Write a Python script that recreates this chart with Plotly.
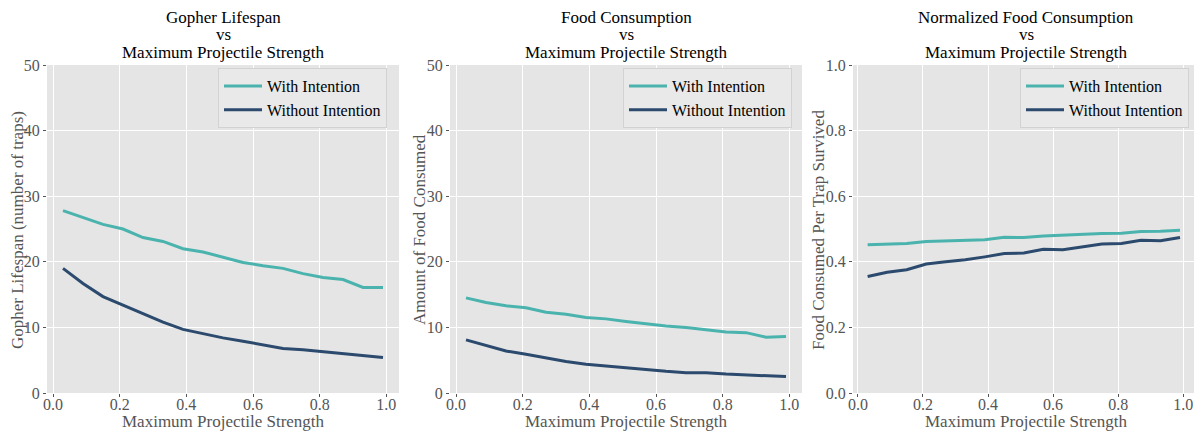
import plotly.graph_objects as go

strength = [0.03, 0.09, 0.15, 0.21, 0.27, 0.33, 0.39, 0.45, 0.51, 0.57,
            0.63, 0.69, 0.75, 0.81, 0.87, 0.93, 0.99]

lifespan_with = [27.8, 26.7, 25.7, 25.0, 23.7, 23.1, 22.0, 21.5, 20.7, 19.9,
                 19.4, 19.0, 18.2, 17.6, 17.3, 16.1, 16.1]
lifespan_without = [19.0, 16.7, 14.7, 13.4, 12.0, 10.8, 9.7, 9.0, 8.4, 7.9,
                    7.3, 6.8, 6.6, 6.3, 6.0, 5.6, 5.4]

food_with = [14.5, 13.8, 13.3, 13.0, 12.3, 12.0, 11.5, 11.3, 10.9, 10.5,
             10.2, 10.0, 9.6, 9.3, 9.2, 8.5, 8.6]
food_without = [8.1, 7.2, 6.4, 5.9, 5.3, 4.8, 4.4, 4.1, 3.8, 3.6,
                3.3, 3.1, 3.1, 2.9, 2.8, 2.6, 2.5]

norm_with = [0.452, 0.455, 0.456, 0.462, 0.463, 0.466, 0.467, 0.475, 0.474, 0.479,
             0.482, 0.485, 0.486, 0.487, 0.492, 0.493, 0.496]
norm_without = [0.355, 0.368, 0.376, 0.393, 0.400, 0.406, 0.415, 0.425, 0.427, 0.438,
                0.437, 0.446, 0.454, 0.456, 0.466, 0.464, 0.474]

titles = [["Gopher Lifespan", "vs", "Maximum Projectile Strength"],
          ["Food Consumption", "vs", "Maximum Projectile Strength"],
          ["Normalized Food Consumption", "vs", "Maximum Projectile Strength"]]
xtitle = "Maximum Projectile Strength"
ytitles = ["Gopher Lifespan (number of traps)", "Amount of Food Consumed",
           "Food Consumed Per Trap Survived"]
series_names = ["With Intention", "Without Intention"]
yranges = [[0, 50], [0, 50], [0, 1.0]]
ytickvals = [[0, 10, 20, 30, 40, 50], [0, 10, 20, 30, 40, 50], [0, 0.2, 0.4, 0.6, 0.8, 1.0]]
yticktext = [["0", "10", "20", "30", "40", "50"], ["0", "10", "20", "30", "40", "50"],
             ["0.0", "0.2", "0.4", "0.6", "0.8", "1.0"]]
xtickvals = [0.0, 0.2, 0.4, 0.6, 0.8, 1.0]
xticktext = ["0.0", "0.2", "0.4", "0.6", "0.8", "1.0"]

data = [(lifespan_with, lifespan_without), (food_with, food_without), (norm_with, norm_without)]

TEAL = "#4bb3ae"
NAVY = "#2b4a6d"
GREY_TXT = "#555555"
FONT = "Liberation Serif"
W, H = 1202, 433
OFF = 8  # page body margin
FW, FH = W - 2 * OFF, H - OFF
TOP, BOT = 65 - OFF, 393 - OFF
PH = BOT - TOP


def px(pix):
    return (pix - OFF) / FW


def py(pix):
    return (BOT - (pix - OFF)) / PH


fig = go.Figure()
domains = [[px(47), px(399)], [px(450), px(802)], [px(853), 1.0]]
xranges = [[-0.018, 1.038], [-0.018, 1.038], [-0.015, 1.033]]
centers = [223, 626, 1026]
ytitle_x = [17, 419, 818]
legend_left = [218, 623, 1020]

for i, (yw, ywo) in enumerate(data):
    n = "" if i == 0 else str(i + 1)
    leg = "legend" + n
    fig.add_trace(go.Scatter(x=strength, y=yw, mode="lines", name=series_names[0],
                             line=dict(color=TEAL, width=3), xaxis="x" + n, yaxis="y" + n,
                             legend=leg))
    fig.add_trace(go.Scatter(x=strength, y=ywo, mode="lines", name=series_names[1],
                             line=dict(color=NAVY, width=3), xaxis="x" + n, yaxis="y" + n,
                             legend=leg))
    ax = dict(domain=domains[i], range=xranges[i], tickvals=xtickvals, ticktext=xticktext,
              showgrid=True, gridcolor="white", gridwidth=1.2, zeroline=False,
              ticks="outside", ticklen=3, tickcolor=GREY_TXT, automargin=False,
              ticklabelstandoff=-6, ticklabeloverflow="allow",
              tickfont=dict(family=FONT, size=16, color=GREY_TXT),
              anchor="y" + n, showline=False)
    ay = dict(domain=[0, 1], range=yranges[i], tickvals=ytickvals[i], ticktext=yticktext[i],
              showgrid=True, gridcolor="white", gridwidth=1.2, zeroline=False,
              ticks="outside", ticklen=3, tickcolor=GREY_TXT, automargin=False,
              ticklabeloverflow="allow",
              tickfont=dict(family=FONT, size=16, color=GREY_TXT),
              anchor="x" + n, showline=False)
    fig.update_layout(**{"xaxis" + n: ax, "yaxis" + n: ay})
    fig.update_layout(**{leg: dict(x=px(legend_left[i]), y=py(68), xanchor="left", yanchor="top",
                                   xref="paper", yref="paper", itemwidth=38,
                                   bgcolor="#e9e9e9", bordercolor="#d2d2d2", borderwidth=1,
                                   font=dict(family=FONT, size=16, color="black"),
                                   tracegroupgap=0)})
    for txt, ypix in zip(titles[i], [17, 34, 53]):
        fig.add_annotation(text=txt, x=px(centers[i]), y=py(ypix), xref="paper", yref="paper",
                           xanchor="center", yanchor="middle", showarrow=False,
                           font=dict(family=FONT, size=17, color="black"))
    fig.add_annotation(text=xtitle, x=px(centers[i]), y=py(421), xref="paper", yref="paper",
                       xanchor="center", yanchor="middle", showarrow=False,
                       font=dict(family=FONT, size=17, color=GREY_TXT))
    fig.add_annotation(text=ytitles[i], x=px(ytitle_x[i]), y=py(230), xref="paper", yref="paper",
                       xanchor="center", yanchor="middle", showarrow=False, textangle=-90,
                       font=dict(family=FONT, size=17, color=GREY_TXT))

fig.update_layout(template="none", width=FW, height=FH,
                  margin=dict(l=0, r=0, t=TOP, b=FH - BOT),
                  paper_bgcolor="white", plot_bgcolor="#e5e5e5",
                  font=dict(family=FONT))

fig.write_html("out.html")
